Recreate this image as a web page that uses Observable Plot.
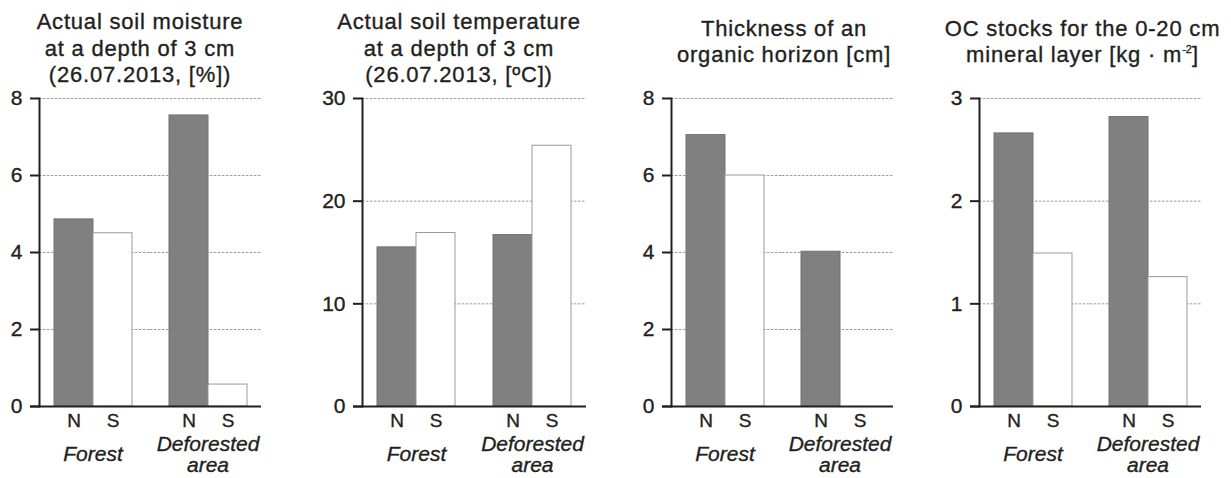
<!DOCTYPE html>
<html><head><meta charset="utf-8">
<script src="https://cdn.jsdelivr.net/npm/d3@7"></script>
<script src="https://cdn.jsdelivr.net/npm/@observablehq/plot@0.6"></script>
<style>
body{margin:0;background:#fff;}
#chart{position:relative;width:1231px;height:478px;overflow:hidden;font-family:"Liberation Sans",Arial,sans-serif;color:#231f20;}
.title{position:absolute;width:340px;text-align:center;font-size:22px;line-height:26.5px;letter-spacing:0.8px;white-space:nowrap;-webkit-text-stroke:0.35px #231f20;}
.title sup{font-size:11px;letter-spacing:0;vertical-align:9px;line-height:0;}
.panel{position:absolute;top:80px;}
.panel svg text{stroke:#231f20;stroke-width:0.35px;}
</style></head><body><div id="chart"></div>
<script>
// Categories
const groups = ["Forest", "Deforested area"];
const groupLabels = ["Forest", "Deforested\narea"];
const sides = ["N", "S"];
// Series values, order: Forest N, Forest S, Deforested N, Deforested S
const moisture = [4.86, 4.50, 7.56, 0.57];
const temperature = [15.5, 16.9, 16.7, 25.4];
const organic = [7.05, 6.0, 4.02, 0];
const ocStocks = [2.66, 1.49, 2.82, 1.26];
// Tick labels
const ticksMoisture = [0, 2, 4, 6, 8];
const ticksTemperature = [0, 10, 20, 30];
const ticksOrganic = [0, 2, 4, 6, 8];
const ticksOc = [0, 1, 2, 3];
// Titles
const titles = [
  "Actual soil moisture<br>at a depth of 3 cm<br>(26.07.2013, [%])",
  "Actual soil temperature<br>at a depth of 3 cm<br>(26.07.2013, [ºC])",
  "Thickness of an<br>organic horizon [cm]",
  "OC stocks for the 0-20 cm<br>mineral layer [kg · m<sup>-2</sup>]"
];

const panels = [
  {values: moisture, ticks: ticksMoisture, axisX: 39, W: 223, titleCx: 140, titleTop: 9},
  {values: temperature, ticks: ticksTemperature, axisX: 361.7, W: 225, titleCx: 459, titleTop: 9},
  {values: organic, ticks: ticksOrganic, axisX: 670.7, W: 222.3, titleCx: 784, titleTop: 15.6},
  {values: ocStocks, ticks: ticksOc, axisX: 978.3, W: 223.4, titleCx: 1082.5, titleTop: 15.6}
];

const chart = document.getElementById("chart");
const ML = 50, MR = 15, GAP = 8, BAR = 40, TICK = 9;
const ink = "#231f20";

panels.forEach((p, k) => {
  const rows = [];
  groups.forEach((g, gi) => sides.forEach((s, si) => rows.push({group: g, side: s, value: p.values[gi * 2 + si]})));
  const b = (p.W - GAP) / 2;
  const fxPad = GAP / (b + GAP);
  const xPadOuter = (b / BAR - 2) / 2;
  const ymax = p.ticks[p.ticks.length - 1];
  const gridF = p.ticks.filter(t => t > 0).map(t => ({g: groups[0], y: t}));
  const gridD = p.ticks.filter(t => t > 0).map(t => ({g: groups[1], y: t}));
  const gridStyle = {stroke: "#9a9a9a", strokeWidth: 1, strokeDasharray: "2.5,1.5"};

  const svg = Plot.plot({
    width: ML + p.W + MR,
    height: 398,
    marginLeft: ML, marginRight: MR, marginTop: 18, marginBottom: 72,
    style: {fontFamily: '"Liberation Sans", Arial, sans-serif', fontSize: "19px", color: ink, background: "transparent", overflow: "visible"},
    fx: {domain: groups, paddingInner: fxPad, paddingOuter: 0, axis: null, label: null},
    x: {domain: sides, paddingInner: 0, paddingOuter: xPadOuter, label: null},
    y: {domain: [0, ymax], nice: false, label: null},
    marks: [
      Plot.ruleY(gridF, {fx: "g", y: "y", ...gridStyle, insetRight: -GAP / 2}),
      Plot.ruleY(gridD, {fx: "g", y: "y", ...gridStyle, insetLeft: -GAP / 2}),
      Plot.barY(rows.filter(d => d.side === "N"), {fx: "group", x: "side", y: "value", fill: "#808080", stroke: "#727272", strokeWidth: 1}),
      Plot.barY(rows.filter(d => d.side === "S"), {fx: "group", x: "side", y: "value", fill: "#ffffff", stroke: "#9a9a9a", strokeWidth: 1}),
      Plot.ruleY([{g: groups[0]}], {fx: "g", y: () => 0, stroke: ink, strokeWidth: 2, insetLeft: -TICK, insetRight: -GAP / 2}),
      Plot.ruleY([{g: groups[1]}], {fx: "g", y: () => 0, stroke: ink, strokeWidth: 2, insetLeft: -GAP / 2}),
      Plot.frame({anchor: "left", facetAnchor: "left", stroke: ink, strokeWidth: 2}),
      Plot.axisY({ticks: p.ticks, tickSize: TICK, tickPadding: 8, fontSize: 21, stroke: ink, strokeWidth: 2, label: null, tickFormat: d => String(d)}),
      Plot.axisX({tickSize: 0, tickPadding: 7, fontSize: 19, label: null}),
      Plot.text(groups, {fx: d => d, text: (d, i) => groupLabels[i], frameAnchor: "bottom", dy: 48, lineAnchor: "middle", fontSize: 21, fontStyle: "italic", fill: ink})
    ]
  });
  const wrap = document.createElement("div");
  wrap.className = "panel";
  wrap.style.left = (p.axisX - ML) + "px";
  wrap.appendChild(svg);
  chart.appendChild(wrap);

  const t = document.createElement("div");
  t.className = "title";
  t.style.left = (p.titleCx - 170) + "px";
  t.style.top = p.titleTop + "px";
  t.innerHTML = titles[k];
  chart.appendChild(t);
});
</script>
</body></html>
